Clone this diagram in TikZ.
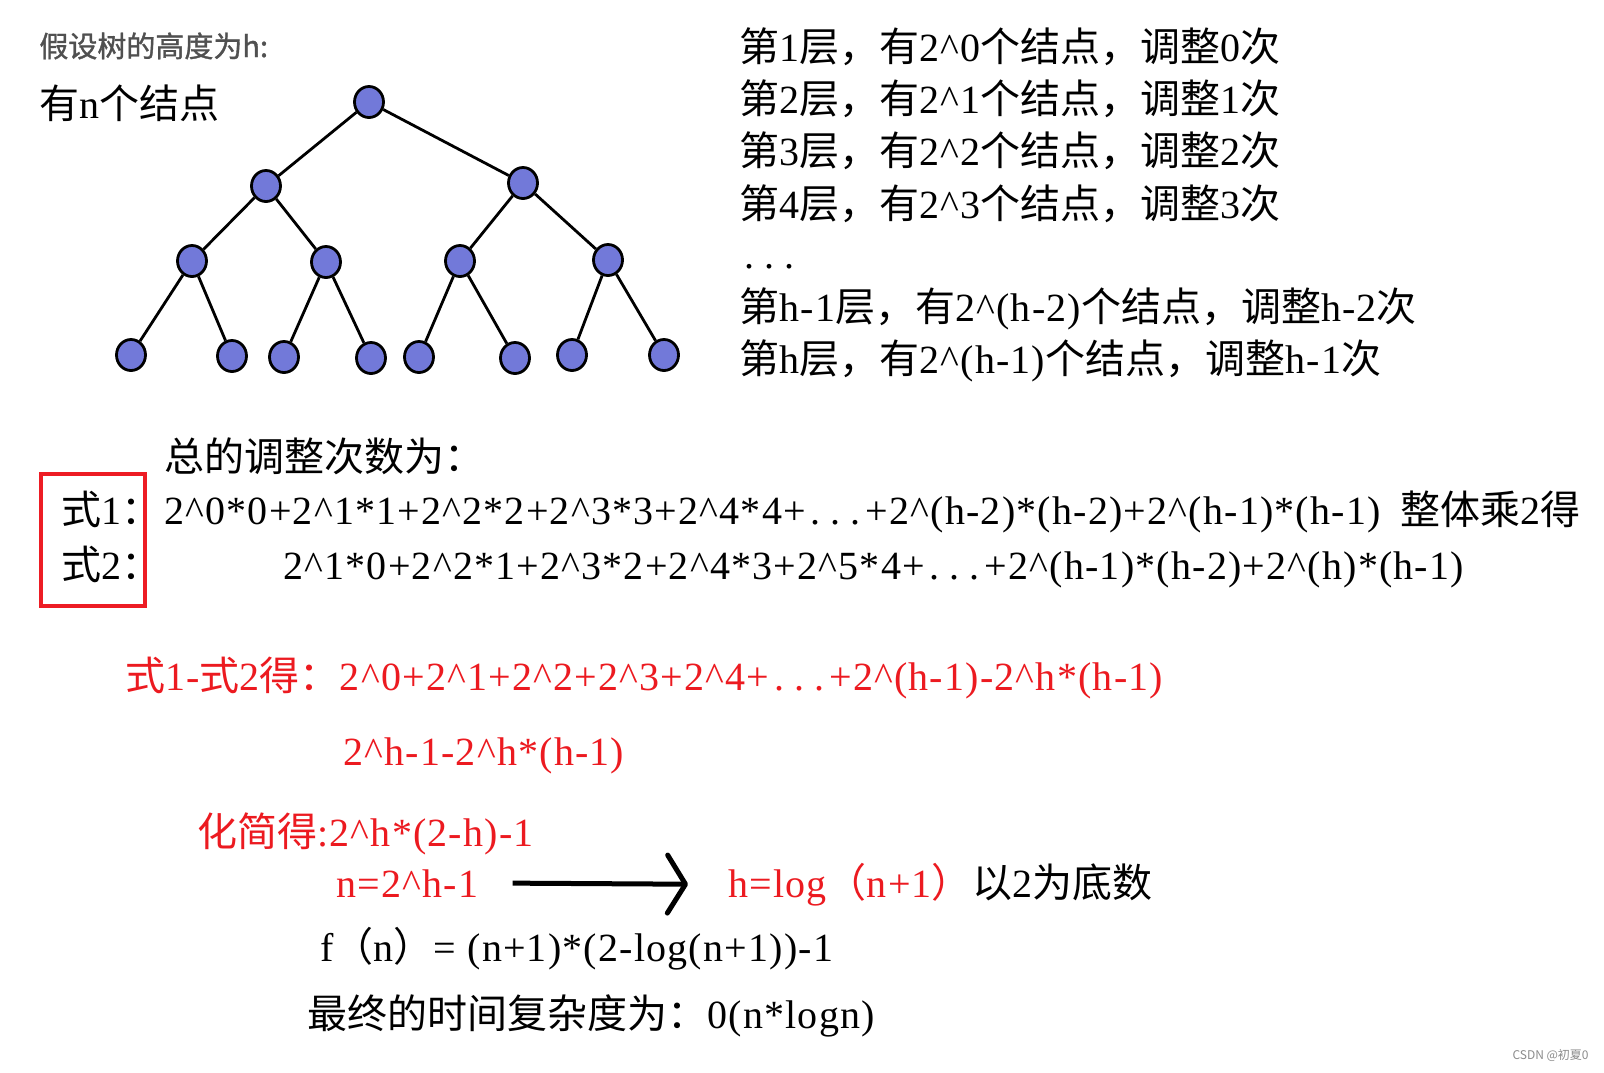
\documentclass[tikz,border=0pt]{standalone}
\usepackage{fontspec}
\setmainfont{Liberation Serif}[LetterSpace=3]
\newfontfamily\zhfont{Noto Sans CJK SC}
\newfontfamily\headfont{Noto Sans CJK SC}[FakeBold=1.2]
\usetikzlibrary{shapes.geometric,arrows.meta}

\definecolor{ballblue}{RGB}{114,121,217}
\definecolor{boxred}{RGB}{237,28,36}
\definecolor{textred}{RGB}{236,26,32}
\definecolor{headgray}{RGB}{80,80,80}

% CJK characters go to the CJK font, the rest stays in Liberation Serif
\XeTeXinterchartokenstate=1
\newXeTeXintercharclass\zhclass
\newcount\zhcode
\newcommand\setzh[2]{\zhcode=#1\relax
  \loop\XeTeXcharclass\zhcode=\zhclass\relax
  \ifnum\zhcode<#2\relax\advance\zhcode by 1\relax\repeat}
\setzh{"3000}{"303F}
\setzh{"4E00}{"9FFF}
\setzh{"FF00}{"FFEF}
\XeTeXinterchartoks 0 \zhclass = {\zhfont}
\XeTeXinterchartoks 4095 \zhclass = {\zhfont}
\XeTeXinterchartoks \zhclass 0 = {\rmfamily}
\XeTeXinterchartoks \zhclass 4095 = {\rmfamily}

\newcommand\bodysize{\fontsize{20pt}{24pt}\selectfont}
\newcommand\headsize{\fontsize{14.5pt}{17pt}\selectfont\headfont\XeTeXinterchartokenstate=0\relax}
\newcommand\marksize{\fontsize{6pt}{7pt}\selectfont\zhfont\XeTeXinterchartokenstate=0\relax}
\newcommand\crt{\textasciicircum}
\newcommand\sdot{\makebox[0.5em]{.}}

\begin{document}
\begin{tikzpicture}[x=0.5pt,y=-0.5pt,
    ball/.style={ellipse,draw,line width=1.4pt,fill=ballblue,minimum width=14.5pt,minimum height=15.5pt,inner sep=0pt},
    edge/.style={line width=1.4pt},
    txt/.style={anchor=base west,inner sep=0pt,font=\bodysize},
    redtxt/.style={txt,text=textred}]
    \fill[white] (0,0) rectangle (1604,1072);
    \useasboundingbox (0,0) rectangle (1604,1072);
    % the tree
    \node[anchor=base west,inner sep=0pt,font=\headsize,text=headgray] (head) at (39,57) {假设树的高度为h:};
    \node[txt] (count) at (39,118) {有n个结点};
    \node[ball] (r) at (369,102) {}; %root
    \node[ball] (a) at (266,186) {};
    \node[ball] (b) at (523,183) {};
    \node[ball] (aa) at (192,261) {};
    \node[ball] (ab) at (326,262) {};
    \node[ball] (ba) at (460,261) {};
    \node[ball] (bb) at (608,260) {};
    \node[ball] (aaa) at (131,355) {}; %leaves
    \node[ball] (aab) at (232,356) {};
    \node[ball] (aba) at (284,357) {};
    \node[ball] (abb) at (371,358) {};
    \node[ball] (baa) at (419,357) {};
    \node[ball] (bab) at (515,358) {};
    \node[ball] (bba) at (572,355) {};
    \node[ball] (bbb) at (664,355) {};
    \draw[edge] (r) -- (a) (r) -- (b);
    \draw[edge] (a) -- (aa) (a) -- (ab) (b) -- (ba) (b) -- (bb);
    \draw[edge] (aa) -- (aaa) (aa) -- (aab) (ab) -- (aba) (ab) -- (abb);
    \draw[edge] (ba) -- (baa) (ba) -- (bab) (bb) -- (bba) (bb) -- (bbb);
    % the levels
    \node[txt] (lv1) at (739,61) {第1层，有2\crt{}0个结点，调整0次};
    \node[txt] (lv2) at (739,113) {第2层，有2\crt{}1个结点，调整1次};
    \node[txt] (lv3) at (739,165) {第3层，有2\crt{}2个结点，调整2次};
    \node[txt] (lv4) at (739,218) {第4层，有2\crt{}3个结点，调整3次};
    \node[txt] (lvdots) at (739,268) {\sdot\sdot\sdot};
    \node[txt] (lvh1) at (739,321) {第h-1层，有2\crt{}(h-2)个结点，调整h-2次};
    \node[txt] (lvh) at (739,373) {第h层，有2\crt{}(h-1)个结点，调整h-1次};
    % the two sums
    \node[txt] (total) at (164,471) {总的调整次数为：};
    \draw[boxred,line width=2pt] (41,474) rectangle (145,606); %box
    \node[txt] (f1) at (61,524) {式1：};
    \node[txt] (f2) at (61,579) {式2：};
    \node[txt] (sum1) at (164,524) {2\crt{}0*0+2\crt{}1*1+2\crt{}2*2+2\crt{}3*3+2\crt{}4*4+\sdot\sdot\sdot+2\crt{}(h-2)*(h-2)+2\crt{}(h-1)*(h-1)\hspace{0.5em}整体乘2得};
    \node[txt] (sum2) at (283,579) {2\crt{}1*0+2\crt{}2*1+2\crt{}3*2+2\crt{}4*3+2\crt{}5*4+\sdot\sdot\sdot+2\crt{}(h-1)*(h-2)+2\crt{}(h)*(h-1)};
    % the difference
    \node[redtxt] (diff) at (125,690) {式1-式2得：2\crt{}0+2\crt{}1+2\crt{}2+2\crt{}3+2\crt{}4+\sdot\sdot\sdot+2\crt{}(h-1)-2\crt{}h*(h-1)};
    \node[redtxt] (diff2) at (343,765) {2\crt{}h-1-2\crt{}h*(h-1)};
    \node[redtxt] (simp) at (197,846) {化简得:2\crt{}h*(2-h)-1};
    \node[redtxt] (nval) at (336,897) {n=2\crt{}h-1};
    \node[redtxt] (hval) at (728,897) {h=log（n+1）};
    \node[txt] (hnote) at (hval.base east) {以2为底数};
    \draw[line width=2.5pt,-{Straight Barb[length=9pt,width=29pt,round]}] ([xshift=17pt]nval.east) -- ([xshift=-20pt]hval.west);
    \node[txt] (fn) at (320,961) {f（n）= (n+1)*(2-log(n+1))-1};
    \node[txt] (final) at (307,1028) {最终的时间复杂度为：0(n*logn)};
    \node[anchor=base east,inner sep=0pt,font=\marksize,text=black!45] (mark) at (1589,1059) {CSDN @初夏0};
\end{tikzpicture}
\end{document}
